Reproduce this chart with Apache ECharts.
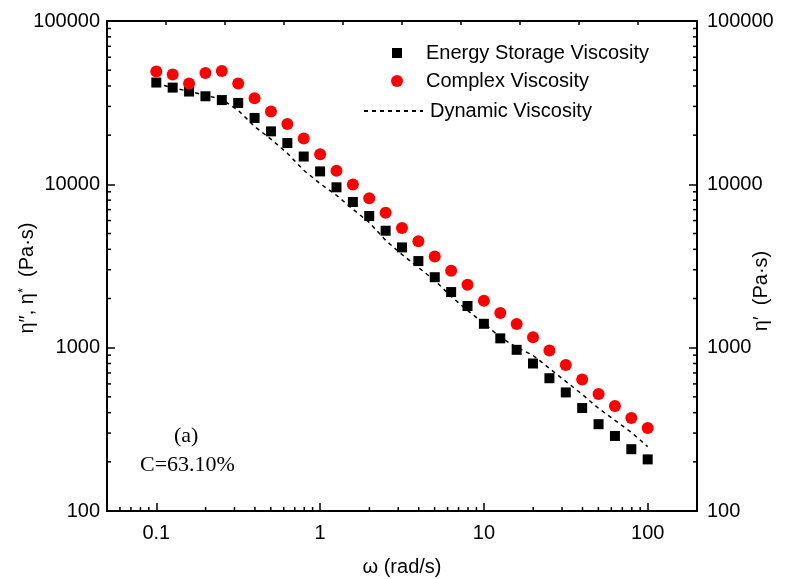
<!DOCTYPE html>
<html>
<head>
<meta charset="utf-8">
<script src="https://cdn.jsdelivr.net/npm/echarts@6/dist/echarts.min.js"></script>
<style>html,body{margin:0;padding:0;background:#fff;}#c{width:800px;height:579px;}</style>
</head>
<body>
<div id="c"></div>
<script>
// angular frequency (rad/s)
const omega = [0.1, 0.1259, 0.1585, 0.1995, 0.2512, 0.3162, 0.3981, 0.5012, 0.631, 0.7943,
  1, 1.259, 1.585, 1.995, 2.512, 3.162, 3.981, 5.012, 6.31, 7.943,
  10, 12.59, 15.85, 19.95, 25.12, 31.62, 39.81, 50.12, 63.1, 79.43, 100];
// Energy Storage Viscosity (Pa·s)
const storage = [42000, 39100, 37000, 34600, 32800, 31500, 25500, 21100, 17900, 14800,
  12000, 9590, 7800, 6400, 5200, 4110, 3390, 2700, 2190, 1800,
  1400, 1140, 970, 800, 650, 532, 427, 340, 288, 239, 207];
// Complex Viscosity (Pa·s)
const complexV = [49000, 47000, 41500, 48000, 49400, 41500, 33600, 27900, 23400, 19050,
  15300, 12100, 9970, 8210, 6710, 5400, 4480, 3620, 2960, 2430,
  1935, 1630, 1395, 1157, 962, 782, 639, 520, 439, 371, 322];
// Dynamic Viscosity (Pa·s)
const dynamicV = [41500, 39000, 37100, 35100, 33100, 28400, 22600, 18900, 15500, 12200,
  10100, 8570, 7040, 5850, 4540, 3720, 3100, 2580, 2060, 1690,
  1410, 1157, 1005, 897, 746, 622, 518, 425, 359, 303, 248];
// axis ranges and minor ticks
const xRange = [0.05, 200];
const yRange = [100, 100000];
const topDivisions = 10; // top frame axis: evenly spaced ticks
const xMinorTicks = [0.06, 0.07, 0.08, 0.09, 0.2, 0.3, 0.4, 0.5, 0.6, 0.7, 0.8, 0.9,
  2, 3, 4, 5, 6, 7, 8, 9, 20, 30, 40, 50, 60, 70, 80, 90];
const yMinorTicks = [200, 300, 400, 500, 600, 700, 800, 900,
  2000, 3000, 4000, 5000, 6000, 7000, 8000, 9000,
  20000, 30000, 40000, 50000, 60000, 70000, 80000, 90000];

const FONT = '"Liberation Sans", Arial, sans-serif';
const zip = (a, b) => a.map((v, i) => [v, b[i]]);
const isPow10 = v => Math.abs(Math.log10(v) - Math.round(Math.log10(v))) < 1e-6;

const chart = echarts.init(document.getElementById('c'), null, {renderer: 'canvas'});
const axisLine = {show: true, onZero: false, lineStyle: {color: '#000', width: 2}};
const axisTick = {show: true, inside: true, length: 8, lineStyle: {color: '#000', width: 1.5}};
const legendText = pad => ({fontFamily: FONT, fontSize: 20, color: '#000', padding: [0, 0, 0, pad]});

chart.setOption({
  animation: false,
  backgroundColor: '#fff',
  grid: {left: 107, right: 103, top: 21, bottom: 68, containLabel: false, outerBoundsMode: 'none'},
  legend: [
    {data: [{name: 'Energy Storage Viscosity', icon: 'rect'}], left: 392, top: 43, padding: 0,
     itemWidth: 10, itemHeight: 10, textStyle: legendText(19)},
    {data: [{name: 'Complex Viscosity', icon: 'circle'}], left: 391, top: 71, padding: 0,
     itemWidth: 12, itemHeight: 12, textStyle: legendText(18)},
    {data: [{name: 'Dynamic Viscosity', itemStyle: {color: 'rgba(0,0,0,0)', borderWidth: 0, opacity: 0}}],
     left: 363, top: 101, padding: 0, itemWidth: 59, itemHeight: 14, textStyle: legendText(2)}
  ],
  xAxis: [
    {type: 'log', logBase: 10, min: xRange[0], max: xRange[1], position: 'bottom',
     name: 'ω (rad/s)', nameLocation: 'middle', nameGap: 46, nameMoveOverlap: false,
     nameTextStyle: {fontFamily: FONT, fontSize: 20, color: '#000'},
     axisLine: axisLine, axisTick: axisTick, splitLine: {show: false},
     axisLabel: {fontFamily: FONT, fontSize: 20, color: '#000', margin: 12,
       formatter: v => isPow10(v) ? String(v) : ''}},
    {type: 'value', min: 0, max: topDivisions, interval: 1, position: 'top',
     axisLine: axisLine, axisTick: {show: true, inside: true, length: 4, lineStyle: {color: '#000', width: 1.5}},
     splitLine: {show: false}, axisLabel: {show: false}}
  ],
  yAxis: [
    {type: 'log', logBase: 10, min: yRange[0], max: yRange[1], position: 'left',
     name: 'η″, η{sup|*}  (Pa·s)', nameLocation: 'middle', nameGap: 70, nameMoveOverlap: false,
     nameTextStyle: {fontFamily: FONT, fontSize: 20, color: '#000', padding: [0, 24, 0, 0],
       rich: {sup: {fontFamily: FONT, fontSize: 13, verticalAlign: 'top', color: '#000'}}},
     axisLine: axisLine, axisTick: axisTick, splitLine: {show: false},
     axisLabel: {fontFamily: FONT, fontSize: 20, color: '#000', margin: 7,
       formatter: v => isPow10(v) ? String(v) : ''}},
    {type: 'log', logBase: 10, min: yRange[0], max: yRange[1], position: 'right',
     name: 'η′  (Pa·s)', nameLocation: 'middle', nameGap: 54, nameMoveOverlap: false,
     nameTextStyle: {fontFamily: FONT, fontSize: 20, color: '#000', padding: [0, 50, 0, 0]},
     axisLine: axisLine, axisTick: axisTick, splitLine: {show: false},
     axisLabel: {fontFamily: FONT, fontSize: 20, color: '#000', margin: 10,
       formatter: v => isPow10(v) ? String(v) : ''}}
  ],
  graphic: [
    {type: 'text', left: 174, top: 425, style: {text: '(a)', font: '22px "Liberation Serif", "Times New Roman", serif', fill: '#000'}},
    {type: 'text', left: 140, top: 454, style: {text: 'C=63.10%', font: '22px "Liberation Serif", "Times New Roman", serif', fill: '#000'}}
  ],
  series: [
    {name: 'Dynamic Viscosity', type: 'line', data: zip(omega, dynamicV), symbol: 'none',
     lineStyle: {color: '#000', width: 1.5, type: [4, 4]}, itemStyle: {color: '#000'}, z: 2},
    {name: 'Energy Storage Viscosity', type: 'scatter', data: zip(omega, storage), symbol: 'rect', symbolSize: 10,
     itemStyle: {color: '#000', opacity: 1}, z: 3},
    {name: 'Complex Viscosity', type: 'scatter', data: zip(omega, complexV), symbol: 'circle', symbolSize: 12,
     itemStyle: {color: '#ff0000', opacity: 1}, z: 4},
    {type: 'custom', silent: true, clip: false, z: 5,
     data: xMinorTicks.map(v => [v]),
     renderItem: (params, api) => {
       const v = api.value(0);
       const b = api.coord([v, yRange[0]]);
       return {type: 'line', shape: {x1: b[0], y1: b[1], x2: b[0], y2: b[1] - 4},
               style: {stroke: '#000', lineWidth: 1.5}};
     }},
    {type: 'custom', silent: true, clip: false, z: 5,
     data: yMinorTicks.map(v => [xRange[0], v]),
     renderItem: (params, api) => {
       const v = api.value(1);
       const l = api.coord([xRange[0], v]);
       const r = api.coord([xRange[1], v]);
       const st = {stroke: '#000', lineWidth: 1.5};
       return {type: 'group', children: [
         {type: 'line', shape: {x1: l[0], y1: l[1], x2: l[0] + 4, y2: l[1]}, style: st},
         {type: 'line', shape: {x1: r[0], y1: r[1], x2: r[0] - 4, y2: r[1]}, style: st}
       ]};
     }}
  ]
});
</script>
</body>
</html>
